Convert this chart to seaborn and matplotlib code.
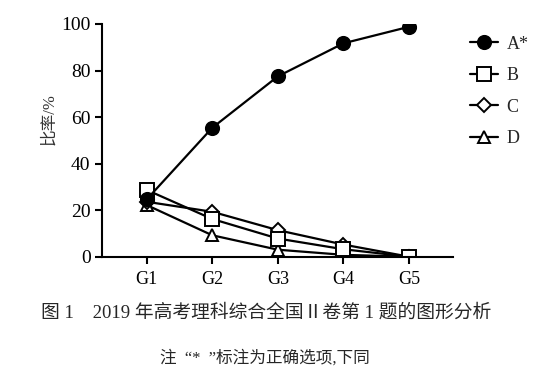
import matplotlib
matplotlib.use("Agg")
import matplotlib.pyplot as plt
import seaborn as sns
import pandas as pd

groups = ["G1", "G2", "G3", "G4", "G5"]
series_names = ["A*", "B", "C", "D"]
A = [24.6, 55.4, 77.5, 91.7, 98.8]
B = [28.7, 16.2, 7.8, 3.2, 0.0]
C = [23.6, 19.3, 11.4, 5.2, 0.0]
D = [22.2, 9.2, 3.0, 0.8, 0.0]
y_ticks = [0, 20, 40, 60, 80, 100]
y_label = "比率/%"
caption = "图 1　2019 年高考理科综合全国Ⅱ卷第 1 题的图形分析"
note = "注  “*  ”标注为正确选项,下同"

sns.set_style("ticks")
plt.rcParams['font.family'] = ['Liberation Serif', 'Noto Sans CJK SC', 'DejaVu Sans']

fig = plt.figure(figsize=(5.55, 3.73), dpi=100)
ax = fig.add_axes([0.1832, 0.3118, 0.8157 - 0.1832, 0.9357 - 0.3118])

values = {"A*": A, "B": B, "C": C, "D": D}
markers = {"A*": "o", "B": "s", "C": "D", "D": "^"}
faces = {"A*": "black", "B": "white", "C": "white", "D": "white"}
sizes = {"A*": 9.5, "B": 9.5, "C": 7.5, "D": 8.5}

frames = []
for name in series_names:
    frames.append(pd.DataFrame({"group": groups, "value": values[name], "option": name}))
df = pd.concat(frames, ignore_index=True)

for name in series_names[::-1]:
    sub = df[df["option"] == name]
    sns.lineplot(data=sub, x="group", y="value", ax=ax, color="black",
                 linewidth=1.6, marker=markers[name], markersize=sizes[name],
                 markerfacecolor=faces[name], markeredgecolor="black",
                 markeredgewidth=1.4, sort=False, label=name)

h, l = ax.get_legend_handles_labels()
order = [l.index(n) for n in series_names]
leg = ax.legend([h[i] for i in order], [l[i] for i in order],
                loc="center left", bbox_to_anchor=(0.817, 0.755),
                bbox_transform=fig.transFigure, frameon=False,
                fontsize=13, handlelength=1.55, labelspacing=0.8,
                handletextpad=0.5)

ax.set_xlim(-0.686, 4.665)
ax.set_ylim(0, 100)
ax.set_yticks(y_ticks)
ax.set_xlabel("")
ax.set_ylabel("")
sns.despine(ax=ax)
for sp in ["left", "bottom"]:
    ax.spines[sp].set_linewidth(1.5)
    ax.spines[sp].set_color("black")
ax.tick_params(axis="both", which="major", length=5, width=1.5, color="black",
               labelcolor="black")
ax.tick_params(axis="x", pad=5, labelsize=13)
ax.tick_params(axis="y", pad=3, labelsize=14)

fig.text(0.088, 0.68, y_label, rotation=90, ha="center", va="center",
         fontsize=12, color="#333333")
fig.text(0.479, 0.161, caption, ha="center", va="center", fontsize=13.5)
fig.text(0.478, 0.04, note, ha="center", va="center", fontsize=12)

fig.savefig("out.png", dpi=100)
